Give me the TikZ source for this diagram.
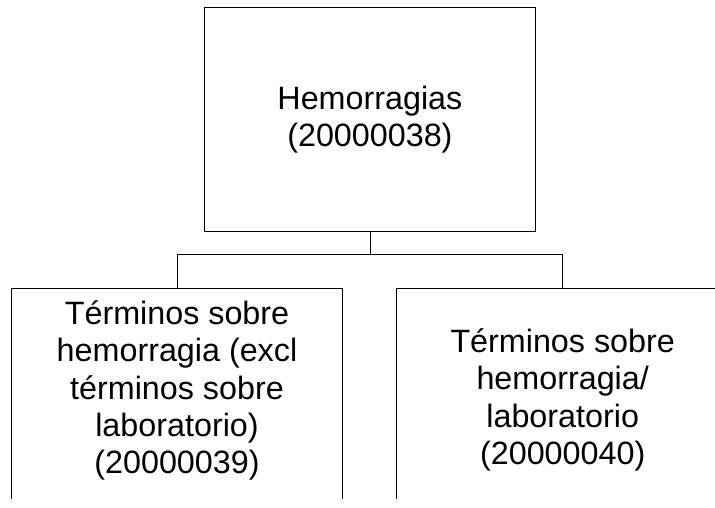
\documentclass[tikz,border=0pt]{standalone}
\usepackage{fontspec}
\setmainfont{Liberation Sans}
\usetikzlibrary{positioning}

\tikzset{
	box/.style = {draw, line width=0.8pt, rectangle, inner sep=0pt},
	boxtext/.style = {align=center, inner sep=0pt, font=\fontsize{32.3}{37.4}\selectfont},
	link/.style = {line width=0.8pt},
}

\begin{document}
\begin{tikzpicture}[x=1pt, y=-1pt]
		\useasboundingbox (0,0) rectangle (715,508);
		\clip (0,0) rectangle (715,498.5);

		% top level
		\node [box, boxtext, minimum width=331.7pt, minimum height=224.4pt] (hem) at (369.9,119.5)
			{Hemorragias\\(20000038)};

		% second level, cut off at the bottom and at the right
		\node [box, anchor=north, minimum width=330.6pt, minimum height=260pt] (ter1) at (177,288.3) {};
		\node [box, anchor=north, minimum width=332pt, minimum height=260pt] (ter2) at (562.7,288.3) {};
		\node [boxtext] (ter1txt) at (177,390.5)
			{Términos sobre\\hemorragia (excl\\términos sobre\\laboratorio)\\(20000039)};
		\node [boxtext] (ter2txt) at (562.7,400)
			{Términos sobre\\hemorragia/\\laboratorio\\(20000040)};

		\coordinate [below=22.6pt of hem.south] (split);
		\draw [link] (hem.south) -- (split);
		\draw [link] (split) -| (ter1.north);
		\draw [link] (split) -| (ter2.north);
\end{tikzpicture}
\end{document}
